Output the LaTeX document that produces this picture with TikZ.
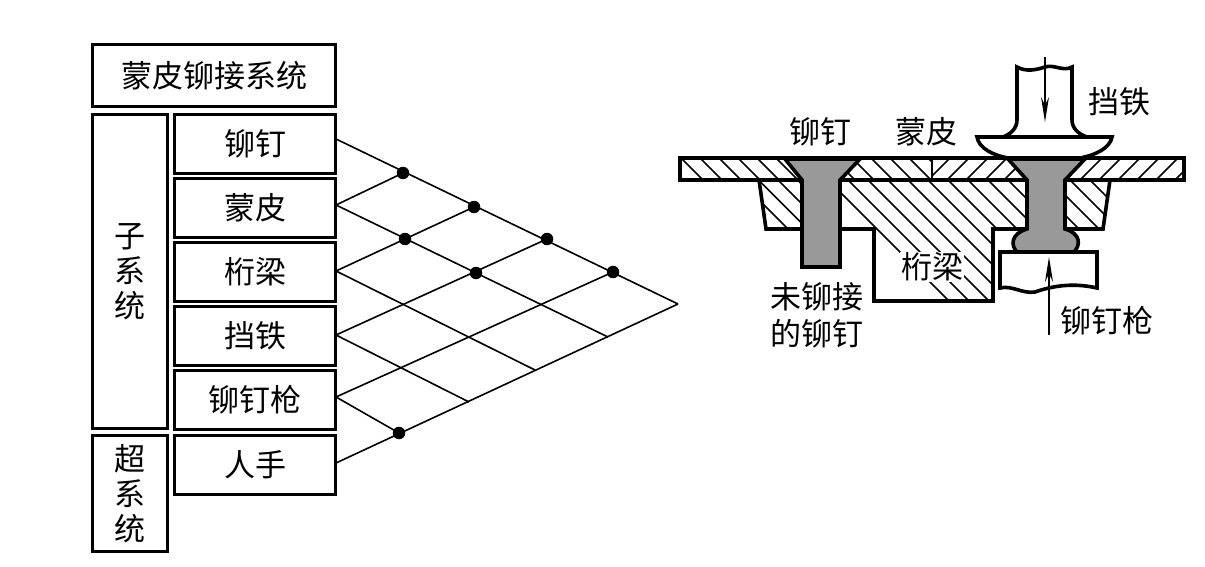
\documentclass[tikz,border=0pt]{standalone}
\usepackage{fontspec}
\setmainfont{Noto Sans CJK SC}
\usetikzlibrary{arrows.meta}
\tikzset{
  x=1pt,y=-1pt,
  box/.style={draw,line width=3.8pt,minimum width=161pt,minimum height=59pt,inner sep=0pt,font=\fontsize{31}{33}\selectfont},
  tallbox/.style={draw,line width=3.8pt,minimum width=75pt,inner sep=0pt,align=center,font=\fontsize{31}{35}\selectfont},
  lbl/.style={inner sep=0pt,align=center,font=\fontsize{31}{37}\selectfont},
  grid/.style={line width=1.6pt},
  dotn/.style={circle,fill=black,minimum size=12.5pt,inner sep=0pt},
  part/.style={line width=3.6pt,line join=miter},
  hatch/.style={line width=1.6pt},
  rivet/.style={fill=black!40,draw=black,line width=3.6pt,line join=miter},
  lead/.style={line width=1.3pt,-{Stealth[length=25pt,width=8pt]}}
}
\begin{document}
\begin{tikzpicture}
\useasboundingbox (0,0) rectangle (1205,567);
% left table
\node[box,minimum width=243pt,minimum height=62pt] (sys) at (214,75.5) {蒙皮铆接系统};
\node[tallbox,minimum height=314pt] (sub) at (130,271.5) {子\\系\\统};
\node[tallbox,minimum height=116pt] (sup) at (130,493.5) {超\\系\\统};
\node[box] (rv) at (255,144) {铆钉};
\node[box] (sk) at (255,208) {蒙皮};
\node[box] (bm) at (255,272) {桁梁};
\node[box] (bk) at (255,336) {挡铁};
\node[box] (gn) at (255,400) {铆钉枪};
\node[box] (hd) at (255,465) {人手};
% grid end points
\coordinate (a0) at (336,139);
\coordinate (b0) at (336,205);
\coordinate (c0) at (336,271);
\coordinate (d0) at (336,335);
\coordinate (e0) at (336,397);
\coordinate (f0) at (336,463);
\coordinate (tip) at (678,304);
\coordinate (p1) at (608,337);
\coordinate (p2) at (535,370);
\coordinate (p3) at (469,402);
\draw[grid] (a0) -- (tip);
\draw[grid] (b0) -- (p1);
\draw[grid] (c0) -- (p2);
\draw[grid] (d0) -- (p3);
\node[dotn] (n1) at (403,173) {};
\node[dotn] (n2) at (474,207) {};
\node[dotn] (n3) at (547,239) {};
\node[dotn] (n4) at (613,272) {};
\node[dotn] (n5) at (405,239) {};
\node[dotn] (n6) at (476,273) {};
\node[dotn] (n7) at (399,433) {};
\draw[grid] (e0) -- (n7.center);
\draw[grid] (f0) -- (tip);
\draw[grid] (e0) -- (n4.center);
\draw[grid] (d0) -- (n3.center);
\draw[grid] (c0) -- (n2.center);
\draw[grid] (b0) -- (n1.center);
% hatching
\begin{scope}
\clip (680,158) rectangle (932,180);
\foreach \k in {0,...,13} \draw[hatch] (683+19*\k-5,155) -- ++(40,40);
\end{scope}
\begin{scope}
\clip (932,158) rectangle (1184,180);
\foreach \k in {0,...,14} \draw[hatch] (929+19*\k+5,155) -- ++(-40,40);
\end{scope}
\begin{scope}
\clip (759,181) -- (766,229) -- (802,229) -- (802,181) -- cycle;
\foreach \k in {0,...,4} \draw[hatch] (700+19.5*\k,141) -- ++(120,120);
\end{scope}
\begin{scope}
\clip (840,181) -- (840,229) -- (874,229) -- (874,301) -- (993,301) -- (993,229) -- (1027,229) -- (1027,181) -- cycle;
\foreach \k in {0,...,15} \draw[hatch] (808+20*\k,160) -- ++(160,160);
\end{scope}
\begin{scope}
\clip (1065,181) -- (1065,229) -- (1103,229) -- (1110,181) -- cycle;
\foreach \k in {-1,...,3} \draw[hatch] (1030+20*\k,160) -- ++(100,100);
\end{scope}
% plate and structure
\draw[part] (680,158) rectangle (1184,180);
\draw[part,line width=2.4pt] (932,158) -- (932,180);
\draw[part] (759,180) -- (766,229) -- (802,229);
\draw[part] (840,229) -- (874,229) -- (874,301) -- (993,301) -- (993,229) -- (1027,229);
\draw[part] (1065,229) -- (1103,229) -- (1110,180);
% rivets
\draw[rivet] (785,159) -- (802,180) -- (802,267) -- (840,267) -- (840,180) -- (860,159) -- cycle;
\draw[rivet] (1008,159) -- (1027,180) -- (1027,229) .. controls (1010,234) and (1011,246) .. (1017,252) -- (1074,252) .. controls (1080,246) and (1082,234) .. (1065,229) -- (1065,180) -- (1085,159) -- cycle;
% dolly
\draw[part,fill=white] (1017,67) .. controls (1026,72) and (1036,70) .. (1045,67) .. controls (1054,64) and (1063,72) .. (1072,67)
  -- (1072,120) .. controls (1072,128) and (1078,134) .. (1087,137) -- (1112,137)
  .. controls (1110,148) and (1096,155) .. (1080,158) -- (1008,158)
  .. controls (992,155) and (979,148) .. (977,137) -- (1003,137) .. controls (1011,134) and (1017,128) .. (1017,120) -- cycle;
\draw[part] (977,137) -- (1112,137);
% gun
\draw[part,fill=white] (1000,288) -- (1000,252) -- (1097,252) -- (1097,288) .. controls (1075,283) and (1055,285) .. (1035,292) .. controls (1022,294) and (1012,285) .. (1000,288) -- cycle;
% arrows
\coordinate (ua) at (1045,57);
\coordinate (ub) at (1045,122);
\coordinate (va) at (1049,335);
\coordinate (vb) at (1049,257);
\draw[lead] (ua) -- (ub);
\draw[lead] (va) -- (vb);
% labels
\node[lbl] (l1) at (820,132) {铆钉};
\node[lbl] (l2) at (926,132) {蒙皮};
\node[lbl] (l3) at (1119,102) {挡铁};
\node[lbl,fill=white,inner sep=1pt] (l4) at (932,267) {桁梁};
\node[lbl] (l5) at (817,315) {未铆接\\的铆钉};
\node[lbl] (l6) at (1107,321) {铆钉枪};
\end{tikzpicture}
\end{document}
